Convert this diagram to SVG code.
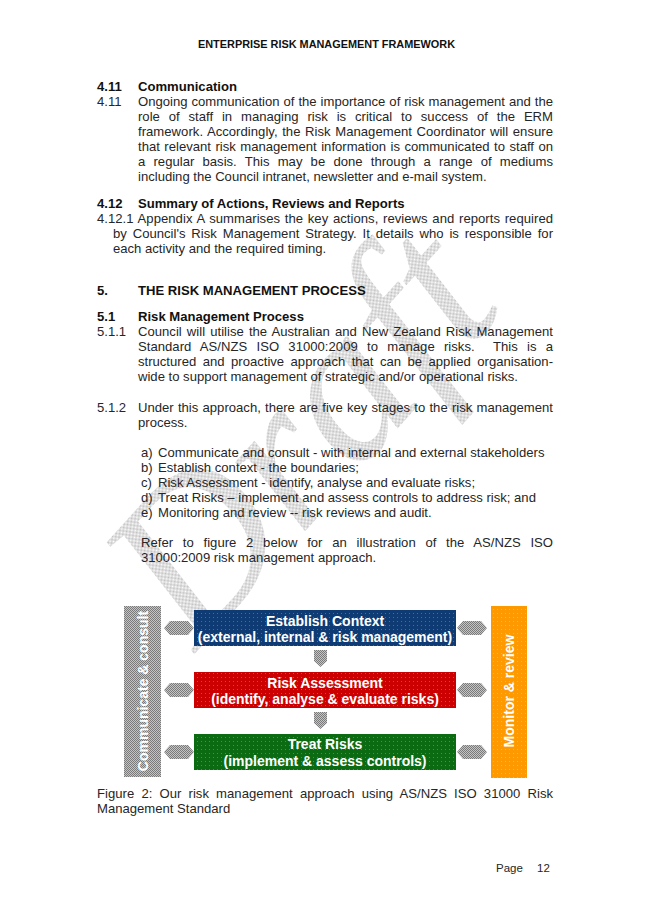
<svg xmlns="http://www.w3.org/2000/svg" width="652" height="923" viewBox="0 0 652 923">
<defs>
<style>
text{font-family:"Liberation Sans",Arial,sans-serif;fill:#262626}
.b{font-size:13.1px}
.h{font-size:13.1px;font-weight:bold;fill:#111}
.hd{font-size:10.9px;font-weight:bold;fill:#111}
.w{fill:#fff;font-size:14px;font-weight:bold;text-anchor:middle}
.ft{font-size:11.5px}
</style>
<pattern id="wm" width="2" height="2" patternUnits="userSpaceOnUse"><rect width="1" height="1" fill="#bdbdbd"/><rect x="1" y="1" width="1" height="1" fill="#bdbdbd"/></pattern>
<pattern id="gr" width="2" height="2" patternUnits="userSpaceOnUse"><rect width="2" height="2" fill="#c4c4c4"/><rect width="1" height="1" fill="#7a7a7a"/><rect x="1" y="1" width="1" height="1" fill="#7a7a7a"/></pattern>
<pattern id="dots" width="4" height="4" patternUnits="userSpaceOnUse"><rect x="1" y="1" width="1" height="1" fill="#fff" opacity="0.25"/></pattern>
</defs>
<rect width="652" height="923" fill="#fff"/>
<g id="watermark"><text transform="translate(302,436) rotate(-48)" x="0" y="66" text-anchor="middle" style="font-family:'Liberation Serif',serif;font-style:italic;font-size:214px;fill:url(#wm)">Draft</text></g>
<g id="page-text">
<text class="hd" x="198" y="48" textLength="257">ENTERPRISE RISK MANAGEMENT FRAMEWORK</text>
<text class="h" x="97" y="90.5">4.11</text><text class="h" x="138" y="90.5">Communication</text>
<text class="b" x="97" y="105.5">4.11</text>
<text class="b" x="138" y="105.5" word-spacing="0.32" textLength="415">Ongoing communication of the importance of risk management and the</text>
<text class="b" x="138" y="120.6" word-spacing="5.22" textLength="415">role of staff in managing risk is critical to success of the ERM</text>
<text class="b" x="138" y="135.7" word-spacing="0.94" textLength="415">framework. Accordingly, the Risk Management Coordinator will ensure</text>
<text class="b" x="138" y="150.8" word-spacing="0.81" textLength="415">that relevant risk management information is communicated to staff on</text>
<text class="b" x="138" y="165.9" word-spacing="4.56" textLength="415">a regular basis. This may be done through a range of mediums</text>
<text class="b" x="138" y="181">including the Council intranet, newsletter and e-mail system.</text>
<text class="h" x="97" y="207.5">4.12</text><text class="h" x="138" y="207.5">Summary of Actions, Reviews and Reports</text>
<text class="b" x="97" y="222.5" word-spacing="1.04" textLength="456">4.12.1 Appendix A summarises the key actions, reviews and reports required</text>
<text class="b" x="113" y="237.5" word-spacing="2.18" textLength="440">by Council's Risk Management Strategy. It details who is responsible for</text>
<text class="b" x="113" y="252.5">each activity and the required timing.</text>
<text class="h" x="97" y="294.5">5.</text><text class="h" x="138" y="294.5">THE RISK MANAGEMENT PROCESS</text>
<text class="h" x="97" y="320.5">5.1</text><text class="h" x="138" y="320.5">Risk Management Process</text>
<text class="b" x="97" y="335.5">5.1.1</text>
<text class="b" x="138" y="335.5" word-spacing="1.46" textLength="415">Council will utilise the Australian and New Zealand Risk Management</text>
<text class="b" x="138" y="351" xml:space="preserve" word-spacing="5.6" textLength="415">Standard AS/NZS ISO 31000:2009 to manage risks.  This is a</text>
<text class="b" x="138" y="366" word-spacing="2.81" textLength="415">structured and proactive approach that can be applied organisation-</text>
<text class="b" x="138" y="381">wide to support management of strategic and/or operational risks.</text>
<text class="b" x="97" y="411.5">5.1.2</text>
<text class="b" x="138" y="411.5" word-spacing="0.59" textLength="415">Under this approach, there are five key stages to the risk management</text>
<text class="b" x="138" y="426.5">process.</text>
<text class="b" x="141" y="456.5">a)</text><text class="b" x="158" y="456.5">Communicate and consult - with internal and external stakeholders</text>
<text class="b" x="141" y="471.5">b)</text><text class="b" x="158" y="471.5">Establish context - the boundaries;</text>
<text class="b" x="141" y="486.5">c)</text><text class="b" x="158" y="486.5">Risk Assessment - identify, analyse and evaluate risks;</text>
<text class="b" x="141" y="501.5">d)</text><text class="b" x="158" y="501.5">Treat Risks – implement and assess controls to address risk; and</text>
<text class="b" x="141" y="516.5">e)</text><text class="b" x="158" y="516.5">Monitoring and review -- risk reviews and audit.</text>
<text class="b" x="141" y="547" word-spacing="6.08" textLength="412">Refer to figure 2 below for an illustration of the AS/NZS ISO</text>
<text class="b" x="141" y="562">31000:2009 risk management approach.</text>
<text class="b" x="97" y="798" word-spacing="3.52" textLength="456">Figure 2: Our risk management approach using AS/NZS ISO 31000 Risk</text>
<text class="b" x="97" y="813">Management Standard</text>
<text class="ft" x="496" y="872">Page</text><text class="ft" x="537" y="872">12</text>
</g>
<g id="connectors">
<polygon fill="url(#gr)" points="164,628 170,621 188,621 194,628 188,635 170,635"/>
<polygon fill="url(#gr)" points="164,690 170,683 188,683 194,690 188,697 170,697"/>
<polygon fill="url(#gr)" points="164,752 170,745 188,745 194,752 188,759 170,759"/>
<polygon fill="url(#gr)" points="457,628 463,621 481,621 487,628 481,635 463,635"/>
<polygon fill="url(#gr)" points="457,690 463,683 481,683 487,690 481,697 463,697"/>
<polygon fill="url(#gr)" points="457,752 463,745 481,745 487,752 481,759 463,759"/>
<polygon fill="url(#gr)" points="314,650 327,650 327,661 320.5,667 314,661"/>
<polygon fill="url(#gr)" points="314,712 327,712 327,723 320.5,729 314,723"/>
</g>
<g id="communicate-consult">
<rect x="124" y="606" width="37" height="171" fill="url(#gr)"/>
<text class="w" transform="translate(147.5,691) rotate(-90)">Communicate &amp; consult</text>
</g>
<g id="monitor-review">
<rect x="491" y="606" width="36" height="172" fill="#ff9900"/>
<rect x="491" y="606" width="36" height="172" fill="url(#dots)"/>
<text class="w" transform="translate(514,691) rotate(-90)">Monitor &amp; review</text>
</g>
<g id="establish-context">
<rect x="194" y="610" width="262" height="36" fill="#0f3b74"/>
<rect x="194" y="610" width="262" height="36" fill="url(#dots)"/>
<text class="w" x="325" y="625.5">Establish Context</text>
<text class="w" x="325" y="642">(external, internal &amp; risk management)</text>
</g>
<g id="risk-assessment">
<rect x="194" y="672" width="262" height="36" fill="#cc0000"/>
<rect x="194" y="672" width="262" height="36" fill="url(#dots)"/>
<text class="w" x="325" y="687.5">Risk Assessment</text>
<text class="w" x="325" y="704">(identify, analyse &amp; evaluate risks)</text>
</g>
<g id="treat-risks">
<rect x="194" y="734" width="262" height="36" fill="#0a6b12"/>
<rect x="194" y="734" width="262" height="36" fill="url(#dots)"/>
<text class="w" x="325" y="749">Treat Risks</text>
<text class="w" x="325" y="765.5">(implement &amp; assess controls)</text>
</g>
</svg>
